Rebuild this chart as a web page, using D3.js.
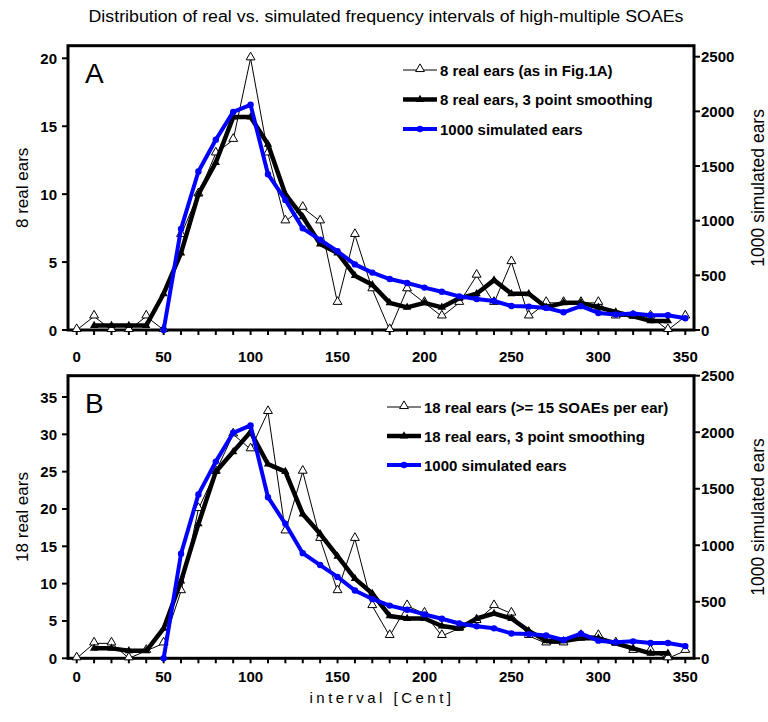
<!DOCTYPE html>
<html>
<head>
<meta charset="utf-8">
<script src="https://cdn.jsdelivr.net/npm/d3@7.9.0/dist/d3.min.js"></script>
<style>
  body { margin: 0; background: #fff; }
  svg { font-family: "Liberation Sans", Arial, sans-serif; }
  .tick-label { font-weight: bold; font-size: 15px; }
  .legend-text { font-weight: bold; font-size: 15px; }
</style>
</head>
<body>
<svg id="chart" width="768" height="722"></svg>
<script>
// interval bins (Cent)
const intervals = [0, 10, 20, 30, 40, 50, 60, 70, 80, 90, 100, 110, 120, 130, 140, 150, 160, 170,
  180, 190, 200, 210, 220, 230, 240, 250, 260, 270, 280, 290, 300, 310, 320, 330, 340, 350];

// panel A: 8 real ears
const rawA = [0, 1, 0, 0, 1, 0, 7, 10, 13, 14, 20, 13, 8, 9, 8, 2, 7, 3,
  0, 3, 2, 1, 2, 4, 2, 5, 1, 2, 2, 2, 2, 1, 1, 1, 0, 1];
// 3 point smoothing, 10 .. 340
const smoothA = [0.33, 0.33, 0.33, 0.33, 2.67, 5.67, 10, 12.33, 15.67, 15.67, 13.67, 10, 8.33, 6.33, 5.67, 4, 3.33,
  2, 1.67, 2, 1.67, 2.33, 2.67, 3.67, 2.67, 2.67, 1.67, 2, 2, 1.67, 1.33, 1, 0.67, 0.67];

// panel B: 18 real ears
const rawB = [0, 2, 2, 0, 1, 2, 9, 20, 25, 30, 28, 33, 17, 25, 16, 9, 16, 7,
  3, 7, 6, 3, 4, 5, 7, 6, 3, 2, 2, 3, 3, 2, 1, 1, 0, 1];
const smoothB = [1.33, 1.33, 1, 1, 4, 10.33, 18, 25, 27.67, 30.33, 26, 25, 19.33, 16.67, 13.67, 10.67, 8.67,
  5.67, 5.33, 5.33, 4.33, 4, 5.33, 6, 5.33, 3.67, 2.33, 2.33, 2.67, 2.67, 2, 1.33, 0.67, 0.67];

// 1000 simulated ears, 50 .. 350 (right axis)
const simulated = [0, 925, 1450, 1740, 1995, 2060, 1425, 1190, 930, 825, 720, 600, 525, 466, 430, 388,
  350, 308, 283, 265, 220, 214, 202, 162, 218, 156, 142, 150, 135, 135, 108];

const xTicks = [0, 50, 100, 150, 200, 250, 300, 350];
const rightTicks = [0, 500, 1000, 1500, 2000, 2500];
const leftTicksA = [0, 5, 10, 15, 20];
const leftTicksB = [0, 5, 10, 15, 20, 25, 30, 35];

const svg = d3.select('#chart');
const x = d3.scaleLinear().domain([-5, 355]).range([68, 694]);

svg.append('text')
  .attr('x', 386).attr('y', 22)
  .attr('text-anchor', 'middle')
  .attr('font-size', 16)
  .attr('textLength', 595).attr('lengthAdjust', 'spacingAndGlyphs')
  .text('Distribution of real vs. simulated frequency intervals of high-multiple SOAEs');

function drawPanel(p) {
  const g = svg.append('g');
  const yL = d3.scaleLinear().domain([0, p.leftMax]).range([p.bottom, p.leftTop]);
  const yR = d3.scaleLinear().domain([0, 2500]).range([p.bottom, p.rightTop]);

  // x ticks every 10
  g.selectAll('.xt').data(intervals).join('line')
    .attr('x1', d => x(d)).attr('x2', d => x(d))
    .attr('y1', p.bottom).attr('y2', p.bottom + 5)
    .attr('stroke', '#000').attr('stroke-width', 2);
  g.selectAll('.xl').data(xTicks).join('text')
    .attr('class', 'tick-label')
    .attr('x', d => x(d)).attr('y', p.labelY)
    .attr('text-anchor', 'middle')
    .text(d => d);

  // left axis
  g.selectAll('.lt').data(p.leftTicks).join('line')
    .attr('x1', 62).attr('x2', 68)
    .attr('y1', d => yL(d)).attr('y2', d => yL(d))
    .attr('stroke', '#000').attr('stroke-width', 2);
  g.selectAll('.ll').data(p.leftTicks).join('text')
    .attr('class', 'tick-label')
    .attr('x', 57).attr('y', d => yL(d) + 5.5)
    .attr('text-anchor', 'end')
    .text(d => d);

  // right axis
  g.selectAll('.rt').data(rightTicks).join('line')
    .attr('x1', 694).attr('x2', 700)
    .attr('y1', d => yR(d)).attr('y2', d => yR(d))
    .attr('stroke', '#000').attr('stroke-width', 2);
  g.selectAll('.rl').data(rightTicks).join('text')
    .attr('class', 'tick-label')
    .attr('x', 701).attr('y', d => yR(d) + 5.5)
    .text(d => d);

  // frame
  g.append('rect')
    .attr('x', 68).attr('y', p.top)
    .attr('width', 694 - 68).attr('height', p.bottom - p.top)
    .attr('fill', 'none').attr('stroke', '#000').attr('stroke-width', 3);

  // axis titles
  const midY = (p.top + p.bottom) / 2;
  g.append('text')
    .attr('transform', `translate(28,${midY}) rotate(-90)`)
    .attr('text-anchor', 'middle').attr('font-size', 17)
    .text(p.leftTitle);
  g.append('text')
    .attr('transform', `translate(764,${midY}) rotate(-90)`)
    .attr('text-anchor', 'middle').attr('font-size', 17.5)
    .text('1000 simulated ears');

  g.append('text')
    .attr('x', 85).attr('y', p.top + 37)
    .attr('font-size', 28)
    .text(p.name);

  // series
  const rawPts = intervals.map((d, i) => [d, p.raw[i]]);
  const smPts = p.smooth.map((v, i) => [intervals[i + 1], v]);
  const simPts = simulated.map((v, i) => [intervals[i + 5], v]);

  const lineL = d3.line().x(d => x(d[0])).y(d => yL(d[1]));
  const lineR = d3.line().x(d => x(d[0])).y(d => yR(d[1]));
  const tri = d3.symbol().type(d3.symbolTriangle);

  g.append('path').attr('d', lineL(rawPts))
    .attr('fill', 'none').attr('stroke', '#000').attr('stroke-width', 1);
  g.selectAll('.rm').data(rawPts).join('path')
    .attr('d', tri.size(34)())
    .attr('transform', d => `translate(${x(d[0])},${yL(d[1]) - 1})`)
    .attr('fill', '#fff').attr('stroke', '#000').attr('stroke-width', 1);

  g.append('path').attr('d', lineL(smPts))
    .attr('fill', 'none').attr('stroke', '#000').attr('stroke-width', 4.5)
    .attr('stroke-linejoin', 'round');
  g.selectAll('.sm').data(smPts).join('path')
    .attr('d', tri.size(30)())
    .attr('transform', d => `translate(${x(d[0])},${yL(d[1])})`)
    .attr('fill', '#000');

  g.append('path').attr('d', lineR(simPts))
    .attr('fill', 'none').attr('stroke', '#0000ff').attr('stroke-width', 4)
    .attr('stroke-linejoin', 'round');
  g.selectAll('.bm').data(simPts).join('circle')
    .attr('cx', d => x(d[0])).attr('cy', d => yR(d[1])).attr('r', 3.2)
    .attr('fill', '#0000ff');

  // legend
  const lg = g.append('g');
  p.legend.forEach((item, i) => {
    const ly = p.legendY + i * p.legendGap;
    const x1 = p.legendX, x2 = p.legendX + 34, xm = (x1 + x2) / 2;
    if (i === 0) {
      lg.append('line').attr('x1', x1).attr('x2', x2).attr('y1', ly).attr('y2', ly)
        .attr('stroke', '#000').attr('stroke-width', 1);
      lg.append('path').attr('d', tri.size(34)())
        .attr('transform', `translate(${xm},${ly - 1})`)
        .attr('fill', '#fff').attr('stroke', '#000');
    } else if (i === 1) {
      lg.append('line').attr('x1', x1).attr('x2', x2).attr('y1', ly).attr('y2', ly)
        .attr('stroke', '#000').attr('stroke-width', 4.5);
      lg.append('path').attr('d', tri.size(30)())
        .attr('transform', `translate(${xm},${ly})`).attr('fill', '#000');
    } else {
      lg.append('line').attr('x1', x1).attr('x2', x2).attr('y1', ly).attr('y2', ly)
        .attr('stroke', '#0000ff').attr('stroke-width', 4);
      lg.append('circle').attr('cx', xm).attr('cy', ly).attr('r', 3.2).attr('fill', '#0000ff');
    }
    lg.append('text').attr('class', 'legend-text')
      .attr('x', x2 + 3).attr('y', ly + 5.5)
      .text(item);
  });
}

drawPanel({
  name: 'A', top: 45.7, bottom: 330, leftMax: 20, leftTop: 58.3, rightTop: 56.7,
  leftTicks: leftTicksA, labelY: 361.5, raw: rawA, smooth: smoothA, leftTitle: '8 real ears',
  legendX: 403, legendY: 70, legendGap: 29.5,
  legend: ['8 real ears (as in Fig.1A)', '8 real ears, 3 point smoothing', '1000 simulated ears']
});
drawPanel({
  name: 'B', top: 375.7, bottom: 658.3, leftMax: 35, leftTop: 397, rightTop: 375.7,
  leftTicks: leftTicksB, labelY: 681.5, raw: rawB, smooth: smoothB, leftTitle: '18 real ears',
  legendX: 387, legendY: 407, legendGap: 29,
  legend: ['18 real ears (>= 15 SOAEs per ear)', '18 real ears, 3 point smoothing', '1000 simulated ears']
});

svg.append('text')
  .attr('x', 382).attr('y', 703)
  .attr('text-anchor', 'middle')
  .attr('font-size', 15)
  .attr('letter-spacing', 3.5)
  .text('interval [Cent]');
</script>
</body>
</html>
